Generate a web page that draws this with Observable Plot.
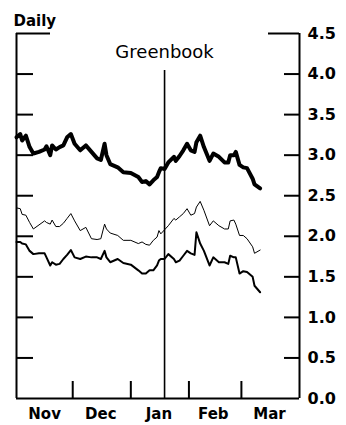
<!DOCTYPE html>
<html><head><meta charset="utf-8">
<script src="https://cdn.jsdelivr.net/npm/d3@7"></script>
<script src="https://cdn.jsdelivr.net/npm/@observablehq/plot@0.6"></script>
<style>body{margin:0;background:#fff} svg{display:block}</style>
</head><body><div id="chart"></div>
<script>
const dates = ["2004-11-01","2004-11-03","2004-11-04","2004-11-06","2004-11-08","2004-11-10","2004-11-13","2004-11-16","2004-11-17","2004-11-19","2004-11-20","2004-11-22","2004-11-24","2004-11-26","2004-11-28","2004-11-30","2004-12-02","2004-12-05","2004-12-08","2004-12-11","2004-12-14","2004-12-16","2004-12-18","2004-12-19","2004-12-21","2004-12-25","2004-12-28","2005-01-01","2005-01-05","2005-01-07","2005-01-09","2005-01-11","2005-01-13","2005-01-15","2005-01-16","2005-01-17","2005-01-19","2005-01-21","2005-01-24","2005-01-25","2005-01-27","2005-01-29","2005-01-31","2005-02-02","2005-02-04","2005-02-05","2005-02-07","2005-02-09","2005-02-12","2005-02-14","2005-02-17","2005-02-20","2005-02-22","2005-02-23","2005-02-25","2005-02-26","2005-02-28","2005-03-02","2005-03-04","2005-03-07","2005-03-08","2005-03-11"];
const thick = [3.22,3.26,3.18,3.24,3.10,3.02,3.04,3.07,3.11,3.00,3.12,3.07,3.10,3.12,3.22,3.26,3.14,3.06,3.12,3.04,2.96,2.94,3.14,3.00,2.89,2.85,2.79,2.78,2.73,2.67,2.68,2.64,2.69,2.73,2.79,2.84,2.83,2.91,2.98,2.93,2.99,3.06,3.14,3.06,3.04,3.16,3.24,3.10,2.93,3.02,2.98,2.91,2.91,3.00,3.00,3.04,2.88,2.85,2.84,2.71,2.64,2.59];
const thin = [2.35,2.34,2.27,2.26,2.17,2.09,2.14,2.19,2.17,2.15,2.20,2.12,2.12,2.16,2.22,2.28,2.19,2.07,2.11,1.97,1.96,1.97,2.15,2.09,2.04,2.01,1.95,1.95,1.91,1.93,1.90,1.89,1.95,1.99,2.07,2.03,2.08,2.13,2.22,2.20,2.24,2.28,2.34,2.26,2.28,2.36,2.43,2.32,2.13,2.19,2.13,2.09,2.09,2.19,2.20,2.15,2.01,2.01,1.97,1.87,1.79,1.83];
const medium = [1.93,1.93,1.91,1.90,1.82,1.78,1.79,1.79,1.74,1.64,1.68,1.65,1.66,1.72,1.77,1.83,1.74,1.72,1.75,1.74,1.74,1.72,1.82,1.74,1.68,1.72,1.67,1.65,1.58,1.54,1.54,1.58,1.58,1.64,1.70,1.72,1.72,1.78,1.72,1.68,1.70,1.76,1.82,1.79,1.77,2.05,1.91,1.82,1.64,1.74,1.68,1.68,1.66,1.76,1.74,1.74,1.54,1.57,1.56,1.50,1.39,1.31];
const yTicks = [0,0.5,1,1.5,2,2.5,3,3.5,4,4.5];
const monthStarts = ["2004-12-01","2005-01-01","2005-02-01","2005-03-01"];
const monthLabels = ["Nov","Dec","Jan","Feb","Mar"];
const monthMids = ["2004-11-16","2004-12-16","2005-01-16","2005-02-14","2005-03-16"];
const greenbookDate = "2005-01-19";
const xDomain = ["2004-11-01","2005-04-01"];

const parse = d3.utcParse("%Y-%m-%d");
const rows = dates.map((d, i) => ({date: parse(d), thick: thick[i], thin: thin[i], medium: medium[i]}));
const xEnd = parse(xDomain[1]);
const bold = {fontWeight: "bold", fill: "black"};

const chart = Plot.plot({
  width: 346, height: 425,
  marginLeft: 16, marginRight: 47, marginTop: 33, marginBottom: 27,
  style: {fontFamily: "'DejaVu Sans', Verdana, sans-serif", background: "white", color: "black"},
  x: {type: "utc", domain: xDomain.map(parse), axis: null},
  y: {domain: [0, 4.5], axis: null},
  marks: [
    Plot.ruleX(xDomain.map(parse), {y1: 0, y2: 4.5, strokeWidth: 2}),
    Plot.ruleY([0], {strokeWidth: 2}),
    Plot.tickY(yTicks.filter(t => t > 0 && t < 4.5), {strokeWidth: 2, insetRight: 266}),
    Plot.tickY(yTicks.filter(t => t > 0 && t < 4.5), {strokeWidth: 2, insetLeft: 268}),
    Plot.tickY([4.5], {strokeWidth: 2, insetRight: 249}),
    Plot.tickY([4.5], {strokeWidth: 2, insetLeft: 252}),
    Plot.tickX(monthStarts.map(parse), {strokeWidth: 2, insetTop: 348}),
    Plot.tickX([parse(greenbookDate)], {strokeWidth: 1.6, insetTop: 37}),
    Plot.lineY(rows, {x: "date", y: "thin", strokeWidth: 1}),
    Plot.lineY(rows, {x: "date", y: "medium", strokeWidth: 2}),
    Plot.lineY(rows, {x: "date", y: "thick", strokeWidth: 4}),
    Plot.text(yTicks, {x: xEnd, y: d => d, text: d => d.toFixed(1), textAnchor: "start", dx: 8, fontSize: 16, ...bold}),
    Plot.text(monthLabels, {x: (d, i) => parse(monthMids[i]), text: d => d, frameAnchor: "bottom", dy: 20, fontSize: 15, ...bold}),
    Plot.text(["Daily"], {text: d => d, frameAnchor: "top-left", textAnchor: "start", dx: -3, dy: -18, fontSize: 15, ...bold}),
    Plot.text(["Greenbook"], {x: parse(greenbookDate), text: d => d, frameAnchor: "top", dy: 12, fontSize: 18, fill: "black"})
  ]
});
document.getElementById("chart").appendChild(chart);
</script>
</body></html>
